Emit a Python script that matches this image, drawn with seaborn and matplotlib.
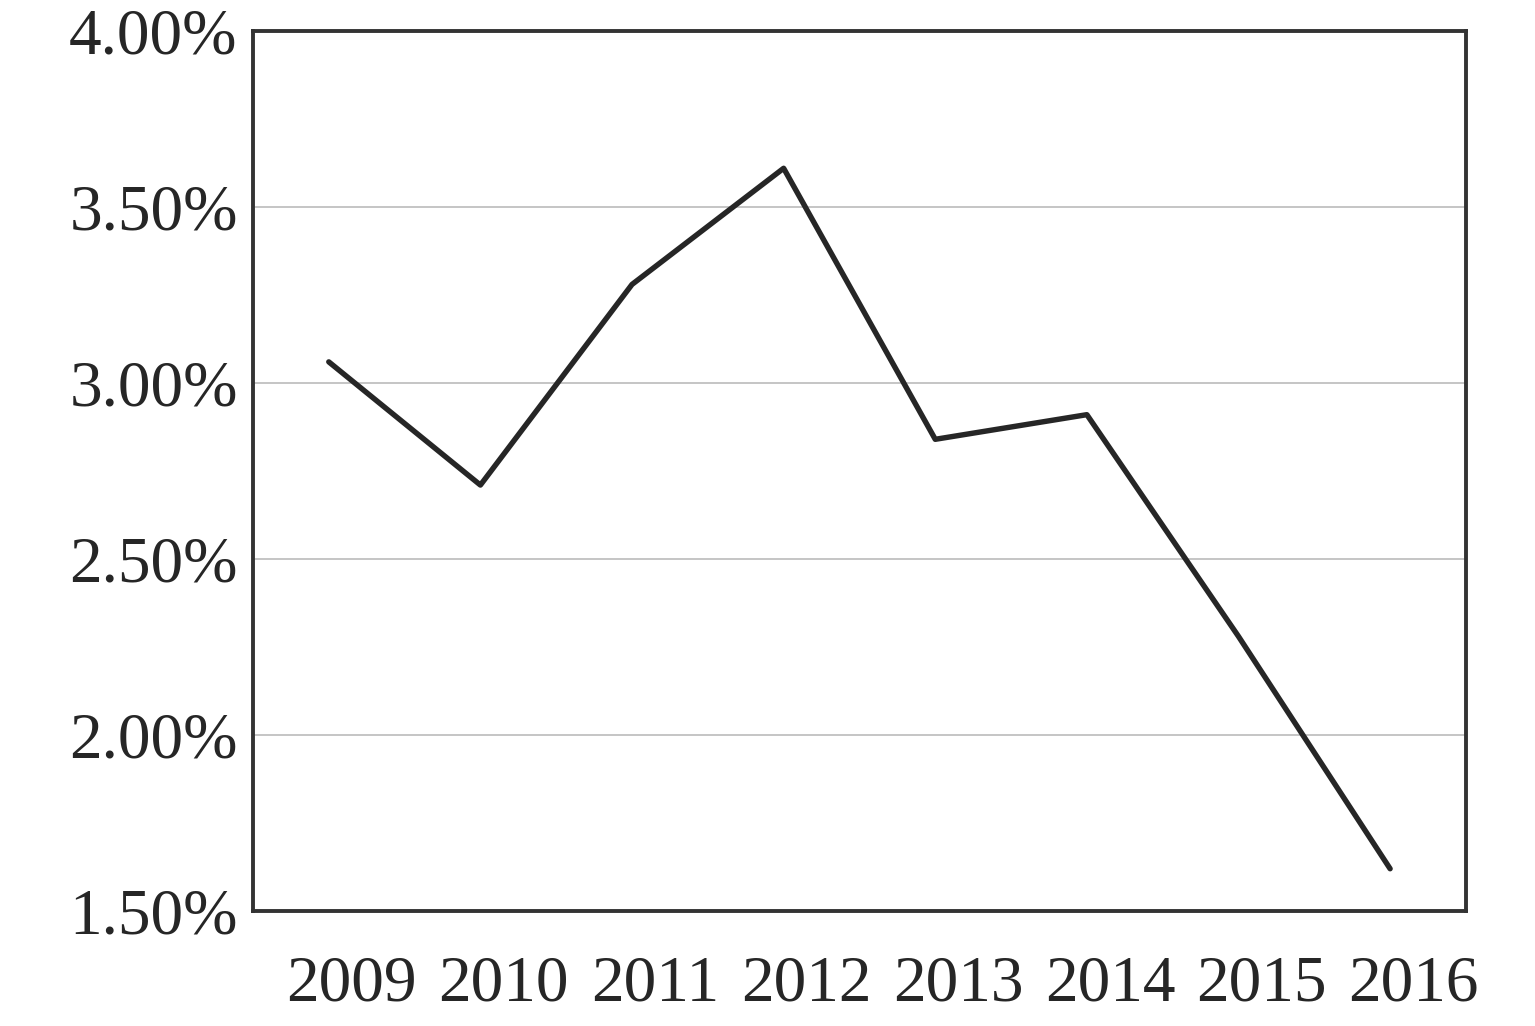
import pandas as pd
import numpy as np
import seaborn as sns
import matplotlib.pyplot as plt
import matplotlib.transforms as mtransforms
from matplotlib.ticker import FuncFormatter

years = ["2009", "2010", "2011", "2012", "2013", "2014", "2015", "2016"]
rates = [3.06, 2.71, 3.28, 3.61, 2.84, 2.91, 2.28, 1.62]
y_ticks = [1.5, 2.0, 2.5, 3.0, 3.5, 4.0]

df = pd.DataFrame({"year": years, "rate": rates})

sns.set_theme(style="white")
plt.rcParams['font.family'] = ['Liberation Serif', 'DejaVu Serif']

fig = plt.figure(figsize=(15.35, 10.26), dpi=100)
ax = fig.add_axes([0.1648, 0.1121, 0.7902, 0.8577])

sns.lineplot(x="year", y="rate", data=df, ax=ax, color="#262626",
             linewidth=3.9, sort=False, solid_capstyle="round")

ax.set_xlim(-0.5, len(years) - 0.5)
ax.set_ylim(1.5, 4.0)
ax.set_yticks(y_ticks)
ax.yaxis.set_major_formatter(FuncFormatter(lambda v, p: f"{v:.2f}%"))
ax.grid(axis="y", color="#c0c0c0", linewidth=1.3)
ax.set_axisbelow(True)
ax.set_xlabel("")
ax.set_ylabel("")
ax.tick_params(axis="both", length=0, labelsize=47, colors="#262626")
ax.tick_params(axis="x", pad=32)
ax.tick_params(axis="y", pad=11)

# year labels sit a little right of their points in the original
shift = mtransforms.ScaledTranslation(23 / 100, 0, fig.dpi_scale_trans)
for lbl in ax.get_xticklabels():
    lbl.set_transform(lbl.get_transform() + shift)

for side in ["left", "right", "top", "bottom"]:
    ax.spines[side].set_visible(True)
    ax.spines[side].set_color("#333333")
    ax.spines[side].set_linewidth(2.8)

fig.savefig("out.png", dpi=100)
